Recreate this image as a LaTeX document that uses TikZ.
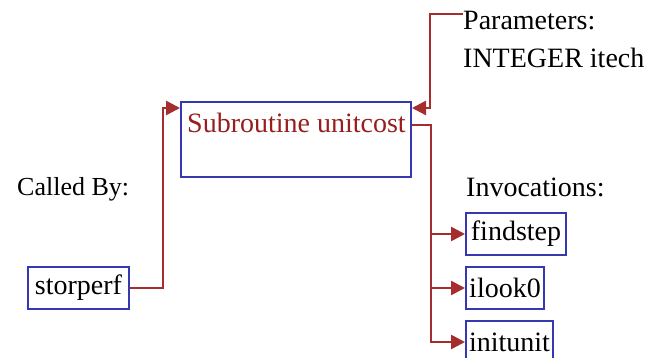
\documentclass[tikz,border=0pt]{standalone}
\usepackage{fontspec}
\setmainfont{Liberation Serif}
\usetikzlibrary{arrows.meta}
\definecolor{linered}{RGB}{165,45,45}
\definecolor{boxblue}{RGB}{55,55,175}
\definecolor{textred}{RGB}{150,30,30}
\begin{document}
\begin{tikzpicture}[x=1pt,y=-1pt,
  box/.style={draw=boxblue,line width=2pt,inner sep=0pt,anchor=north west,font=\fontsize{28}{34}\selectfont},
  lbl/.style={inner sep=0pt,anchor=base west,font=\fontsize{28}{34}\selectfont},
  conn/.style={draw=linered,line width=2.5pt},
  arr/.style={conn,-{Triangle[length=14pt,width=14pt]}}]
\useasboundingbox (0,0) rectangle (648,358);
% boxes
\node[box,minimum width=230pt,minimum height=75pt] (main) at (180,101) {};
\node[lbl,text=textred,font=\fontsize{28}{34}\selectfont] (title) at (187,133) {Subroutine unitcost};
\node[box,minimum width=101pt,minimum height=42pt] (storperf) at (27,266) {storperf};
\node[box,minimum width=100pt,minimum height=42pt] (findstep) at (465,212) {findstep};
\node[box,minimum width=78pt,minimum height=42pt] (ilook) at (465,266) {ilook0};
\node[box,minimum width=87pt,minimum height=42pt] (initunit) at (465,320) {initunit};
% labels
\node[lbl,font=\fontsize{26}{32}\selectfont] (calledby) at (17,196) {Called By:};
\node[lbl] (invoc) at (466,197) {Invocations:};
\node[lbl] (params) at (463,30) {Parameters:};
\node[lbl] (itech) at (463,68) {INTEGER itech};
% connectors
\coordinate (lb) at (163,108);
\draw[arr] (storperf.east) -| (lb) -- (lb -| main.west);
\coordinate (ptop) at (463,14);
\coordinate (pb) at (430,108);
\draw[arr] (ptop) -| (pb) -- (pb -| main.east);
\coordinate (ob) at (431,125);
\draw[arr] (main.east |- ob) -| (ob |- initunit.west) -- (initunit.west);
\draw[arr] (ob |- findstep.west) -- (findstep.west);
\draw[arr] (ob |- ilook.west) -- (ilook.west);
\end{tikzpicture}
\end{document}
